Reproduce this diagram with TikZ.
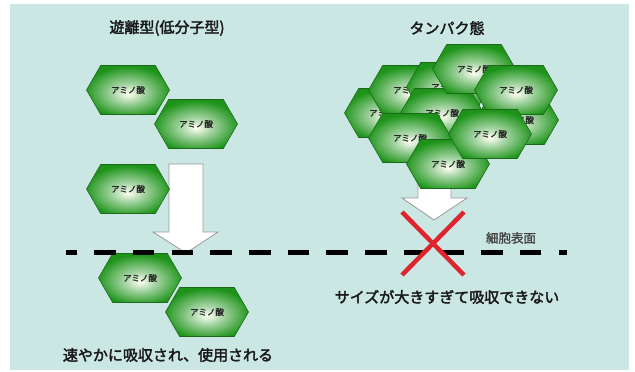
\documentclass[tikz,border=0pt]{standalone}
\usepackage{fontspec}
\newfontfamily\jp[FakeBold=1.2]{Noto Sans CJK JP}
\newfontfamily\jpbold[FakeBold=2.4]{Noto Sans CJK JP}
\usetikzlibrary{shapes.symbols}
\definecolor{panel}{RGB}{203,231,227}
\definecolor{leaf}{RGB}{30,148,26}
\definecolor{leafdark}{RGB}{28,105,28}
\definecolor{crossred}{RGB}{222,36,44}
\pgfdeclareradialshading{aminoglow}{\pgfpoint{0bp}{-4bp}}{color(0bp)=(white!95!yellow); color(9bp)=(white!62!leaf); color(26bp)=(leaf); color(50bp)=(leaf!90!black)}

\begin{document}
\begin{tikzpicture}[x=1pt, y=-1pt,
    amino/.style = {shape=signal, signal to=east and west, signal pointer angle=120,
        minimum width=83pt, minimum height=49pt, inner sep=0pt, shading=aminoglow,
        draw=leafdark, line width=0.6pt, text=black!85, font=\jp\fontsize{8.5}{10}\selectfont},
    bigarrow/.style = {draw=black!40, fill=white, line width=0.8pt},
    membrane/.style = {line width=5pt, dash pattern=on 21.5pt off 17.2pt, dash phase=10.5pt},
    title/.style = {text=black!90, font=\jpbold\fontsize{15}{18}\selectfont}]
    \useasboundingbox (0,0) rectangle (635,372);
    \fill[panel] (10,4) rectangle (629,370);

    % arrows
    \draw[bigarrow] (169,164) -- (203,164) -- (203,232) -- (218,232) -- (186,253) -- (153,232) -- (169,232) -- cycle;
    \draw[bigarrow] (418,150) -- (451,150) -- (451,198) -- (467,198) -- (434,220) -- (402,198) -- (418,198) -- cycle;

    % free amino acids
    \node [amino] (f1) at (128,90) {アミノ酸};
    \node [amino] (f2) at (196,124) {アミノ酸};
    \node [amino] (f3) at (128,189) {アミノ酸};
    \node [amino] (f4) at (140,278) {アミノ酸};
    \node [amino] (f5) at (207,312) {アミノ酸};

    % protein
    \node [amino] (p5) at (386,113) {アミノ酸};
    \node [amino] (p4) at (410,90) {アミノ酸};
    \node [amino] (p3) at (448,87) {アミノ酸};
    \node [amino] (p6) at (442,113) {アミノ酸};
    \node [amino] (p8) at (410,138) {アミノ酸};
    \node [amino] (p10) at (448,164) {アミノ酸};
    \node [amino] (p1) at (474,69) {アミノ酸};
    \node [amino] (p7) at (517,120) {アミノ酸};
    \node [amino] (p2) at (516,90) {アミノ酸};
    \node [amino] (p9) at (490,134) {アミノ酸};

    % cell surface
    \coordinate (m1) at (66,252.7);
    \coordinate (m2) at (567,252.7);
    \draw[membrane] (m1) -- (m2);

    \coordinate (x1) at (402,212);
    \coordinate (x2) at (464,212);
    \coordinate (x3) at (402,275);
    \coordinate (x4) at (464,275);
    \draw[crossred, line width=4.5pt] (x1) -- (x4);
    \draw[crossred, line width=4.5pt] (x2) -- (x3);

    % texts
    \node [title] (tfree) at (167,28) {遊離型(低分子型)};
    \node [title] (tprot) at (447,28) {タンパク態};
    \node [text=black!75, font=\jp\fontsize{12.5}{14}\selectfont] (surf) at (511,238) {細胞表面};
    \node [title] (big) at (447,297) {サイズが大きすぎて吸収できない};
    \node [title] (fast) at (168,355) {速やかに吸収され、使用される};
\end{tikzpicture}
\end{document}
